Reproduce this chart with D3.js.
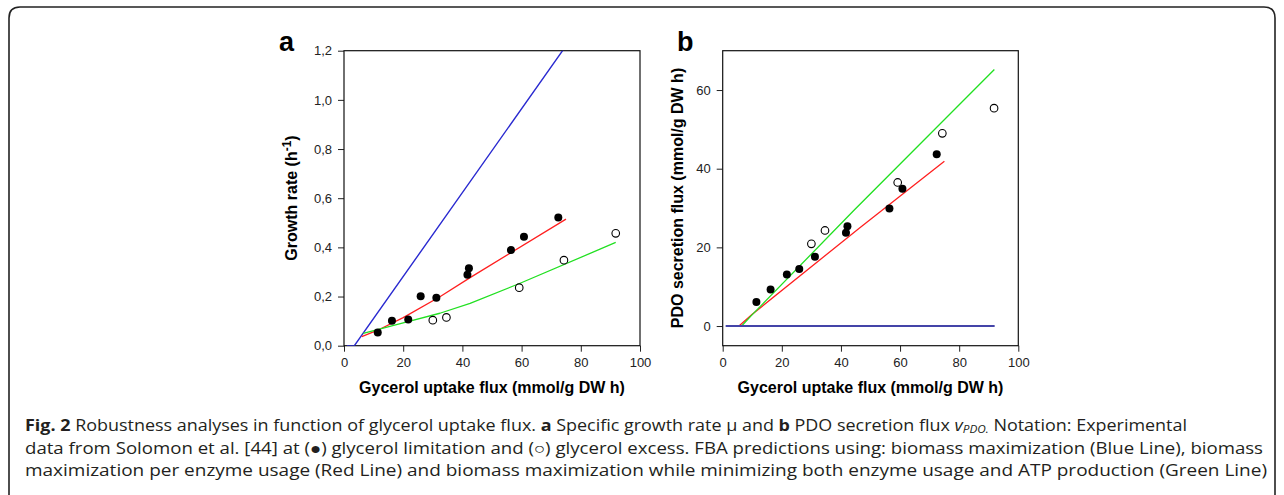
<!DOCTYPE html>
<html>
<head>
<meta charset="utf-8">
<title>Robustness analyses - glycerol uptake flux</title>
<script src="https://d3js.org/d3.v7.min.js"></script>
<style>
  body { margin: 0; background: #fff; }
</style>
</head>
<body>
<script>
// experimental data (x = glycerol uptake flux)
const limX  = [11.4, 16.2, 21.7, 25.9, 31.2, 41.7, 42.2, 56.4, 60.8, 72.4];
const limMu = [0.054, 0.102, 0.107, 0.201, 0.195, 0.289, 0.315, 0.389, 0.443, 0.522];
const limPDO = [6.1, 9.3, 13.1, 14.5, 17.6, 23.7, 25.4, 29.9, 34.9, 43.7];
const excX  = [30.0, 34.6, 59.2, 74.3, 91.8];
const excMu = [0.104, 0.115, 0.236, 0.348, 0.457];
const excPDO = [20.9, 24.3, 36.5, 49.0, 55.4];

// FBA predictions, panel a (growth rate)
const blueAx = [1, 3.5, 92];
const blueAy = [0, 0, 1.51];
const redAx = [6, 11.4, 20, 32.4, 42.6, 75];
const redAy = [0.037, 0.063, 0.114, 0.199, 0.277, 0.515];
const greenAx = [6.5, 20, 32.4, 42.6, 59.5, 91.8];
const greenAy = [0.05, 0.093, 0.132, 0.172, 0.254, 0.42];

// FBA predictions, panel b (PDO secretion)
const blueBx = [1, 92];
const blueBy = [0, 0];
const redBx = [5.5, 10, 46.4, 75];
const redBy = [0, 3.0, 25.0, 41.9];
const greenBx = [6.4, 10, 44, 91.9];
const greenBy = [0, 2.9, 29.1, 65.2];

const xTicks = [0, 20, 40, 60, 80, 100];
const yTicksA = [0, 0.2, 0.4, 0.6, 0.8, 1.0, 1.2];
const yTicksB = [0, 20, 40, 60];

const plotFont = "Arial, 'Liberation Sans', sans-serif";
const capFont = "'Open Sans', 'Noto Sans', sans-serif";

const svg = d3.select("body").append("svg")
  .attr("width", 1284).attr("height", 495);

// figure border (open at the bottom)
svg.append("path")
  .attr("d", "M9,495 L9,18 Q9,7 20,7 L1264,7 Q1275,7 1275,18 L1275,495")
  .attr("fill", "none").attr("stroke", "#222").attr("stroke-width", 1.6);

const zip = (xs, ys) => xs.map((x, i) => [x, ys[i]]);

function panel(opt) {
  const g = svg.append("g").style("font-family", plotFont);
  const x = d3.scaleLinear().domain([0, 100]).range([opt.left, opt.right]);
  const y = d3.scaleLinear().domain(opt.yDomain).range([345.7, 50.7]);
  const clipId = "clip" + opt.label;
  svg.append("clipPath").attr("id", clipId).append("rect")
    .attr("x", opt.left).attr("y", 50.7)
    .attr("width", opt.right - opt.left).attr("height", 295);

  // axes
  const ax = g.append("g").attr("transform", "translate(0,345.7)")
    .call(d3.axisBottom(x).tickValues(xTicks).tickSize(6).tickPadding(6));
  const ay = g.append("g").attr("transform", "translate(" + opt.left + ",0)")
    .call(d3.axisLeft(y).tickValues(opt.yTicks).tickSize(6).tickPadding(6)
      .tickFormat(opt.fmt));
  [ax, ay].forEach(a => {
    a.attr("font-family", null).attr("font-size", null);
    a.select(".domain").remove();
    a.selectAll("text").style("font-size", "13px").attr("fill", "#222");
    a.selectAll("line").attr("stroke", "#222");
  });

  // frame
  g.append("rect").attr("x", opt.left).attr("y", 50.7)
    .attr("width", opt.right - opt.left).attr("height", 295)
    .attr("fill", "none").attr("stroke", "#111").attr("stroke-width", 1.2);

  const line = d3.line().x(d => x(d[0])).y(d => y(d[1]));
  const lines = g.append("g").attr("clip-path", "url(#" + clipId + ")");
  opt.series.forEach(s => {
    lines.append("path").datum(zip(s.x, s.y))
      .attr("d", line).attr("fill", "none")
      .attr("stroke", s.color).attr("stroke-width", s.w || 1.3)
      .attr("stroke-linejoin", "round");
  });

  // points
  g.selectAll(null).data(zip(limX, opt.lim)).join("circle")
    .attr("cx", d => x(d[0])).attr("cy", d => y(d[1])).attr("r", 4)
    .attr("fill", "#000");
  g.selectAll(null).data(zip(excX, opt.exc)).join("circle")
    .attr("cx", d => x(d[0])).attr("cy", d => y(d[1])).attr("r", 3.8)
    .attr("fill", "#fff").attr("stroke", "#000").attr("stroke-width", 1.1);

  // panel letter
  g.append("text").attr("x", opt.letterX).attr("y", 51)
    .style("font-size", "27px").attr("font-weight", "bold").text(opt.label);

  // x title
  g.append("text").attr("x", (opt.left + opt.right) / 2).attr("y", 393)
    .attr("text-anchor", "middle").style("font-size", "16px").attr("font-weight", "bold")
    .text("Gycerol uptake flux (mmol/g DW h)");

  // y title
  const yt = g.append("text")
    .attr("transform", "translate(" + opt.yTitleX + ",198) rotate(-90)")
    .attr("text-anchor", "middle").style("font-size", "16px").attr("font-weight", "bold");
  opt.yTitle(yt);
}

panel({
  label: "a", left: 344, right: 640, letterX: 279, yTitleX: 297,
  yDomain: [0, 1.2], yTicks: yTicksA,
  fmt: d => d3.format(".1f")(d).replace(".", ","),
  lim: limMu, exc: excMu,
  series: [
    { x: blueAx, y: blueAy, color: "#2a2ad0", w: 1.4 },
    { x: redAx, y: redAy, color: "#ff2020" },
    { x: greenAx, y: greenAy, color: "#22e022" }
  ],
  yTitle: t => {
    t.append("tspan").text("Growth rate (h");
    t.append("tspan").attr("dy", -6).style("font-size", "12px").text("-1");
    t.append("tspan").attr("dy", 6).text(")");
  }
});

panel({
  label: "b", left: 722.7, right: 1018.3, letterX: 677, yTitleX: 683,
  yDomain: [-5, 70], yTicks: yTicksB,
  fmt: d3.format("d"),
  lim: limPDO, exc: excPDO,
  series: [
    { x: redBx, y: redBy, color: "#ff2020" },
    { x: greenBx, y: greenBy, color: "#22e022" },
    { x: blueBx, y: blueBy, color: "#4444a8", w: 2 }
  ],
  yTitle: t => t.text("PDO secretion flux (mmol/g DW h)")
});

// caption
const cap = svg.append("g").style("font-family", capFont).style("font-size", "16px")
  .attr("fill", "#231f20");
const l1 = cap.append("text").attr("x", 25).attr("y", 431)
  .attr("textLength", 1162).attr("lengthAdjust", "spacingAndGlyphs");
l1.append("tspan").attr("font-weight", "bold").text("Fig. 2");
l1.append("tspan").text(" Robustness analyses in function of glycerol uptake flux. ");
l1.append("tspan").attr("font-weight", "bold").text("a");
l1.append("tspan").text(" Specific growth rate \u03bc and ");
l1.append("tspan").attr("font-weight", "bold").text("b");
l1.append("tspan").text(" PDO secretion flux ");
l1.append("tspan").attr("font-style", "italic").text("v");
l1.append("tspan").attr("font-style", "italic").style("font-size", "10.5px").attr("dy", 2).text("PDO.");
l1.append("tspan").attr("dy", -2).text(" Notation: Experimental");

cap.append("text").attr("x", 25).attr("y", 454)
  .attr("textLength", 1238).attr("lengthAdjust", "spacingAndGlyphs")
  .text("data from Solomon et al. [44] at (\u25cf) glycerol limitation and (\u25cb) glycerol excess. FBA predictions using: biomass maximization (Blue Line), biomass");

cap.append("text").attr("x", 25).attr("y", 476)
  .attr("textLength", 1242).attr("lengthAdjust", "spacingAndGlyphs")
  .text("maximization per enzyme usage (Red Line) and biomass maximization while minimizing both enzyme usage and ATP production (Green Line)");
</script>
</body>
</html>
